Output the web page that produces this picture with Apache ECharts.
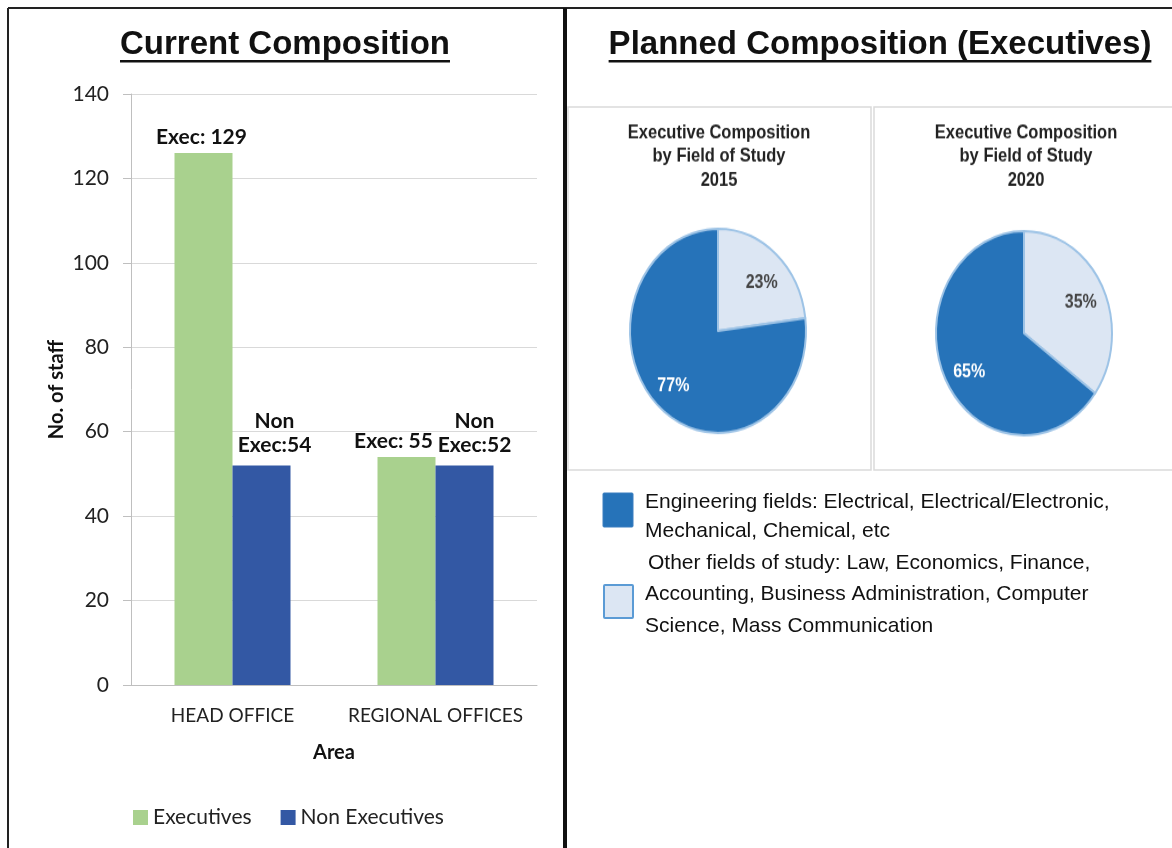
<!DOCTYPE html>
<html>
<head>
<meta charset="utf-8">
<script src="https://cdn.jsdelivr.net/npm/echarts@6/dist/echarts.min.js"></script>
<style>
  html, body { margin: 0; padding: 0; background: #fff; }
  #wrap { position: relative; width: 1172px; height: 848px; overflow: hidden; }
  #main { position: absolute; left: 0; top: 0; width: 1172px; height: 848px; }
  #pies { position: absolute; left: 567px; top: 107px; width: 605px; height: 310px;
          transform: scaleY(1.16); transform-origin: 0 0; }
</style>
</head>
<body>
<div id="wrap">
  <div id="main"></div>
  <div id="pies"></div>
</div>
<script>
// ---------- data ----------
const categories = ['HEAD OFFICE', 'REGIONAL OFFICES'];
const seriesNames = ['Executives', 'Non Executives'];
const execValues = [126, 54];
const nonExecValues = [52, 52];
const execLabels = ['Exec: 129', 'Exec: 55'];
const nonExecLabels = ['Non\nExec:54', 'Non\nExec:52'];
const yMin = 0, yMax = 140, yStep = 20;

const leftTitle = 'Current Composition';
const rightTitle = 'Planned Composition (Executives)';
const pieTitles = ['Executive Composition\nby Field of Study\n2015', 'Executive Composition\nby Field of Study\n2020'];
const fieldNames = ['Other fields of study', 'Engineering fields'];
const otherShare = [23, 35];
const engineeringShare = [77, 65];
const legendEngLines = ['Engineering fields: Electrical, Electrical/Electronic,', 'Mechanical, Chemical, etc'];
const legendOtherLines = ['Other fields of study: Law, Economics, Finance,', 'Accounting, Business Administration, Computer', 'Science, Mass Communication'];

// ---------- colours ----------
const GREEN = '#A9D18E', BLUE = '#3358A4';
const PIE_DARK = '#2673B9', PIE_LIGHT = '#DCE6F3', PIE_EDGE = '#9DC3E6';

function textWidth(str, font) {
  const c = document.createElement('canvas').getContext('2d');
  c.font = font; return c.measureText(str).width;
}
const titleFont = 'bold 33px "Liberation Sans", Arial, sans-serif';
const lw = textWidth(leftTitle, titleFont), rw = textWidth(rightTitle, titleFont);
const lcx = 285, rcx = 880;
const legFont = '21px "Liberation Sans", Arial, sans-serif';

// ---------- left chart + frame ----------
const main = echarts.init(document.getElementById('main'), null, { renderer: 'canvas' });
const baseFont = 'Lato';
const mainGraphic = [
  { type: 'line', shape: { x1: 8, y1: 8, x2: 1172, y2: 8 }, style: { stroke: '#222', lineWidth: 2 } },
  { type: 'line', shape: { x1: 8, y1: 8, x2: 8, y2: 848 }, style: { stroke: '#222', lineWidth: 2 } },
  { type: 'rect', shape: { x: 563, y: 8, width: 4, height: 840 }, style: { fill: '#111' } },
  { type: 'rect', shape: { x: 568, y: 107, width: 303, height: 363 }, style: { fill: 'none', stroke: '#DADADA', lineWidth: 1.5 } },
  { type: 'rect', shape: { x: 874, y: 107, width: 300, height: 363 }, style: { fill: 'none', stroke: '#DADADA', lineWidth: 1.5 } },
  { type: 'text', x: lcx, y: 45, style: { text: leftTitle, font: titleFont, fill: '#111', align: 'center', verticalAlign: 'middle' } },
  { type: 'rect', shape: { x: lcx - lw / 2, y: 60, width: lw, height: 2.5 }, style: { fill: '#111' } },
  { type: 'text', x: rcx, y: 45, style: { text: rightTitle, font: titleFont, fill: '#111', align: 'center', verticalAlign: 'middle' } },
  { type: 'rect', shape: { x: rcx - rw / 2, y: 60, width: rw, height: 2.5 }, style: { fill: '#111' } },
  // pie legend
  { type: 'rect', shape: { x: 603, y: 493, width: 30, height: 34, r: 1 }, style: { fill: PIE_DARK, stroke: '#3A7FC0', lineWidth: 1 } },
  { type: 'rect', shape: { x: 604, y: 585, width: 29, height: 33, r: 1 }, style: { fill: PIE_LIGHT, stroke: '#5B9BD5', lineWidth: 2 } }
];
const engY = [502, 531], othY = [563, 594, 626];
legendEngLines.forEach((t, i) => mainGraphic.push({ type: 'text', x: 645, y: engY[i], style: { text: t, font: legFont, fill: '#111', verticalAlign: 'middle' } }));
legendOtherLines.forEach((t, i) => mainGraphic.push({ type: 'text', x: i === 0 ? 648 : 645, y: othY[i], style: { text: t, font: legFont, fill: '#111', verticalAlign: 'middle' } }));

main.setOption({
  animation: false,
  textStyle: { fontFamily: baseFont },
  grid: { left: 131, right: 635, top: 94, bottom: 163, containLabel: false },
  legend: {
    data: seriesNames, left: 128, top: 802, itemWidth: 15, itemHeight: 15, itemGap: 29,
    icon: 'rect', textStyle: { fontSize: 21, color: '#222', fontFamily: baseFont }
  },
  xAxis: {
    type: 'category', data: categories,
    axisLine: { lineStyle: { color: '#BFBFBF', width: 1 } },
    axisTick: { show: false },
    axisLabel: { fontSize: 19, color: '#222', margin: 21, interval: 0, fontFamily: baseFont },
    name: 'Area', nameLocation: 'middle', nameGap: 58,
    nameTextStyle: { fontSize: 20, fontWeight: 'bold', color: '#111', fontFamily: baseFont }
  },
  yAxis: {
    type: 'value', min: yMin, max: yMax, interval: yStep,
    axisLine: { show: true, lineStyle: { color: '#BFBFBF' } },
    axisTick: { show: true, length: 8, lineStyle: { color: '#BFBFBF' } },
    splitLine: { lineStyle: { color: '#D9D9D9' } },
    axisLabel: { fontSize: 21, color: '#222', margin: 22, fontFamily: baseFont },
    name: 'No. of staff', nameLocation: 'middle', nameGap: 64, nameRotate: 90,
    nameTextStyle: { fontSize: 20, fontWeight: 'bold', color: '#111', fontFamily: baseFont }
  },
  series: [
    {
      type: 'bar', name: seriesNames[0], barWidth: 58, barGap: '0%',
      itemStyle: { color: GREEN },
      label: { show: true, position: 'top', distance: 5, fontSize: 21, fontWeight: 'bold', color: '#111', fontFamily: baseFont },
      data: execValues.map((v, i) => ({ value: v, label: { formatter: execLabels[i], offset: i === 1 ? [-13, 0] : [-2, 0] } }))
    },
    {
      type: 'bar', name: seriesNames[1], barWidth: 58,
      itemStyle: { color: BLUE },
      label: { show: true, position: 'top', distance: 8, fontSize: 21, fontWeight: 'bold', color: '#111', lineHeight: 24, align: 'center', fontFamily: baseFont },
      data: nonExecValues.map((v, i) => ({ value: v, label: { formatter: nonExecLabels[i], offset: i === 1 ? [10, 0] : [13, 0] } }))
    }
  ],
  graphic: mainGraphic
});

// ---------- pies, vertically stretched like the reference ----------
const pies = echarts.init(document.getElementById('pies'), null, { renderer: 'canvas' });
const pieCenters = [[151, 193], [457, 195]];
const pieR = 88;
const otherLabelOffset = [[0, 8], [-2, 4]];
const engLabelOffset = [[-1, -2], [4, 4]];
const pieSeries = [];
[0, 1].forEach(k => {
  pieSeries.push({
    type: 'pie', center: pieCenters[k], radius: [0, pieR], startAngle: 90, clockwise: true,
    silent: true, label: { show: false }, labelLine: { show: false },
    itemStyle: { borderColor: PIE_EDGE, borderWidth: 2 },
    data: [
      { name: fieldNames[0], value: otherShare[k], itemStyle: { color: PIE_LIGHT } },
      { name: fieldNames[1], value: engineeringShare[k], itemStyle: { color: PIE_DARK } }
    ]
  });
  pieSeries.push({
    type: 'pie', center: pieCenters[k], radius: [38, pieR], startAngle: 90, clockwise: true,
    silent: true, labelLine: { show: false },
    itemStyle: { color: 'rgba(0,0,0,0)', borderWidth: 0 },
    label: {
      show: true, position: 'inside', formatter: p => p.value + '%',
      fontSize: 16, fontWeight: 'bold', fontFamily: '"Liberation Sans", Arial, sans-serif'
    },
    data: [
      { name: fieldNames[0], value: otherShare[k], label: { color: '#444', offset: otherLabelOffset[k] }, itemStyle: { color: 'rgba(0,0,0,0)' } },
      { name: fieldNames[1], value: engineeringShare[k], label: { color: '#fff', offset: engLabelOffset[k] }, itemStyle: { color: 'rgba(0,0,0,0)' } }
    ]
  });
});
const ptFont = 'bold 16.5px "Liberation Sans", Arial, sans-serif';
pies.setOption({
  animation: false,
  series: pieSeries,
  graphic: [
    { type: 'text', x: 152, y: 12, style: { text: pieTitles[0], font: ptFont, fill: '#222', align: 'center', lineHeight: 20.5 } },
    { type: 'text', x: 459, y: 12, style: { text: pieTitles[1], font: ptFont, fill: '#222', align: 'center', lineHeight: 20.5 } }
  ]
});
</script>
</body>
</html>
